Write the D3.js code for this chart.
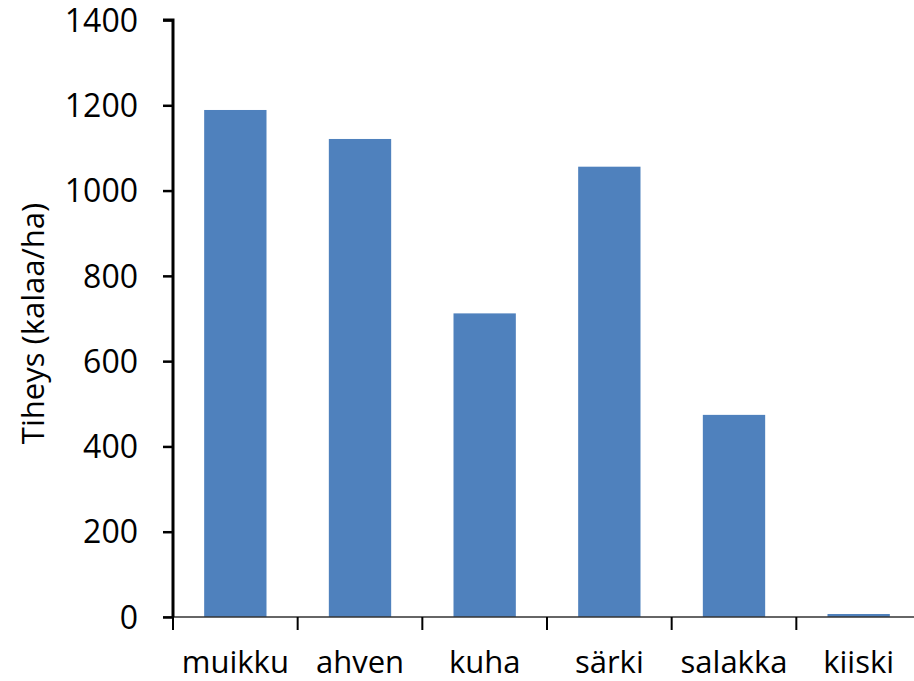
<!DOCTYPE html>
<html>
<head>
<meta charset="utf-8">
<script src="https://cdn.jsdelivr.net/npm/d3@7"></script>
<style>
  body { margin: 0; background: #fff; }
  text { font-family: "Open Sans", sans-serif; fill: #000; }
</style>
</head>
<body>
<div id="chart"></div>
<script>
// Data
const categories = ["muikku", "ahven", "kuha", "särki", "salakka", "kiiski"];
const values = [1189, 1121, 712, 1056, 474, 7];
const yTicks = [0, 200, 400, 600, 800, 1000, 1200, 1400];

const width = 914;
const height = 681;
const margin = { top: 20, right: -7, bottom: 64, left: 173 };

const svg = d3.select("#chart")
    .append("svg")
    .attr("width", width)
    .attr("height", height);

const x = d3.scaleBand()
    .domain(categories)
    .range([margin.left, width - margin.right])
    .paddingInner(0.5)
    .paddingOuter(0.25);

const y = d3.scaleLinear()
    .domain([0, 1400])
    .range([height - margin.bottom, margin.top]);

// bars
svg.append("g")
    .selectAll("rect")
    .data(values)
    .join("rect")
    .attr("x", (d, i) => x(categories[i]))
    .attr("y", d => y(d))
    .attr("width", x.bandwidth())
    .attr("height", d => y(0) - y(d))
    .attr("fill", "#4f81bd");

// x axis line
const y0 = y(0);
svg.append("line")
    .attr("x1", margin.left - 10)
    .attr("x2", width)
    .attr("y1", y0)
    .attr("y2", y0)
    .attr("stroke", "#333")
    .attr("stroke-width", 1.5);

// x ticks between categories
const step = x.step();
const xTickPos = d3.range(categories.length + 1).map(i => margin.left + i * step);
svg.append("g")
    .selectAll("line")
    .data(xTickPos)
    .join("line")
    .attr("x1", d => d)
    .attr("x2", d => d)
    .attr("y1", y0)
    .attr("y2", y0 + 13)
    .attr("stroke", "#000")
    .attr("stroke-width", 2);

// category labels
svg.append("g")
    .selectAll("text")
    .data(categories)
    .join("text")
    .attr("x", d => x(d) + x.bandwidth() / 2)
    .attr("y", y0 + 56)
    .attr("text-anchor", "middle")
    .style("font-size", "31px")
    .text(d => d);

// y axis
const yAxis = d3.axisLeft(y)
    .tickValues(yTicks)
    .tickSize(10)
    .tickPadding(25)
    .tickFormat(d3.format("d"));

const gy = svg.append("g")
    .attr("transform", `translate(${margin.left},0)`)
    .call(yAxis);

gy.attr("font-family", null).attr("font-size", null);
gy.select(".domain")
    .attr("stroke", "#000")
    .attr("stroke-width", 3)
    .attr("d", `M-10,${y(1400)}H0V${y0}`);
gy.selectAll(".tick line")
    .attr("stroke", "#000")
    .attr("stroke-width", 2.5);
gy.selectAll(".tick text")
    .style("font-size", "32px")
    .attr("dy", "0.35em");

// y axis title
svg.append("text")
    .attr("transform", `translate(44,${(y(0) + y(1400)) / 2 + 5}) rotate(-90)`)
    .attr("text-anchor", "middle")
    .style("font-size", "31px")
    .text("Tiheys (kalaa/ha)");
</script>
</body>
</html>
